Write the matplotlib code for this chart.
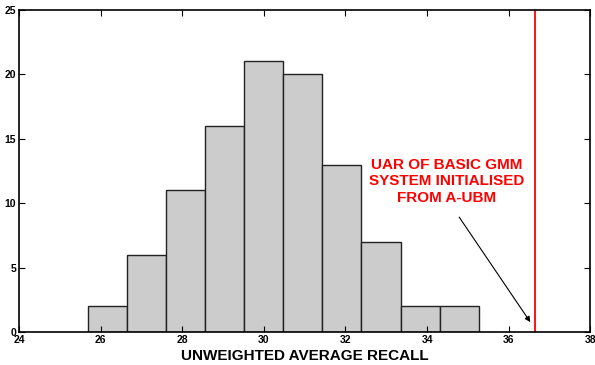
import numpy as np
import matplotlib
matplotlib.use("Agg")
import matplotlib.pyplot as plt

plt.rcParams["font.family"] = ["Liberation Sans", "DejaVu Sans"]

# histogram of UAR values
bin_lo = 25.68
bin_width = 0.959
counts = [2, 6, 11, 16, 21, 20, 13, 7, 2, 2]
baseline_uar = 36.65
note = "UAR OF BASIC GMM\nSYSTEM INITIALISED\nFROM A-UBM"

edges = bin_lo + bin_width * np.arange(len(counts))

fig = plt.figure(figsize=(5.95, 3.65), dpi=100)
ax = fig.add_axes([0.032, 0.090, 0.960, 0.883])

ax.bar(edges, counts, width=bin_width, align="edge", color="#cccccc",
       edgecolor="#222222", linewidth=1.0)
ax.axvline(baseline_uar, color="#ff0000", linewidth=1.3)

ax.text(34.49, 11.7, note, color="#ff0000", fontsize=11, fontweight="bold",
        ha="center", va="center", linespacing=1.2)
ax.annotate("", xy=(36.57, 0.6), xytext=(34.75, 9.1),
            arrowprops=dict(arrowstyle="-|>", color="black", lw=0.8,
                            mutation_scale=8))

ax.set_xlim(24, 38)
ax.set_ylim(0, 25)
ax.set_xticks(np.arange(24, 39, 2))
ax.set_yticks(np.arange(0, 26, 5))
ax.tick_params(direction="in", top=True, right=True, length=4, width=0.8,
               labelsize=7.5, pad=2)
for lab in ax.get_xticklabels() + ax.get_yticklabels():
    lab.set_fontweight("bold")
for s in ax.spines.values():
    s.set_linewidth(1.2)
ax.set_xlabel("UNWEIGHTED AVERAGE RECALL", fontsize=11, fontweight="bold",
              labelpad=3)

fig.savefig("out.png", dpi=100)
